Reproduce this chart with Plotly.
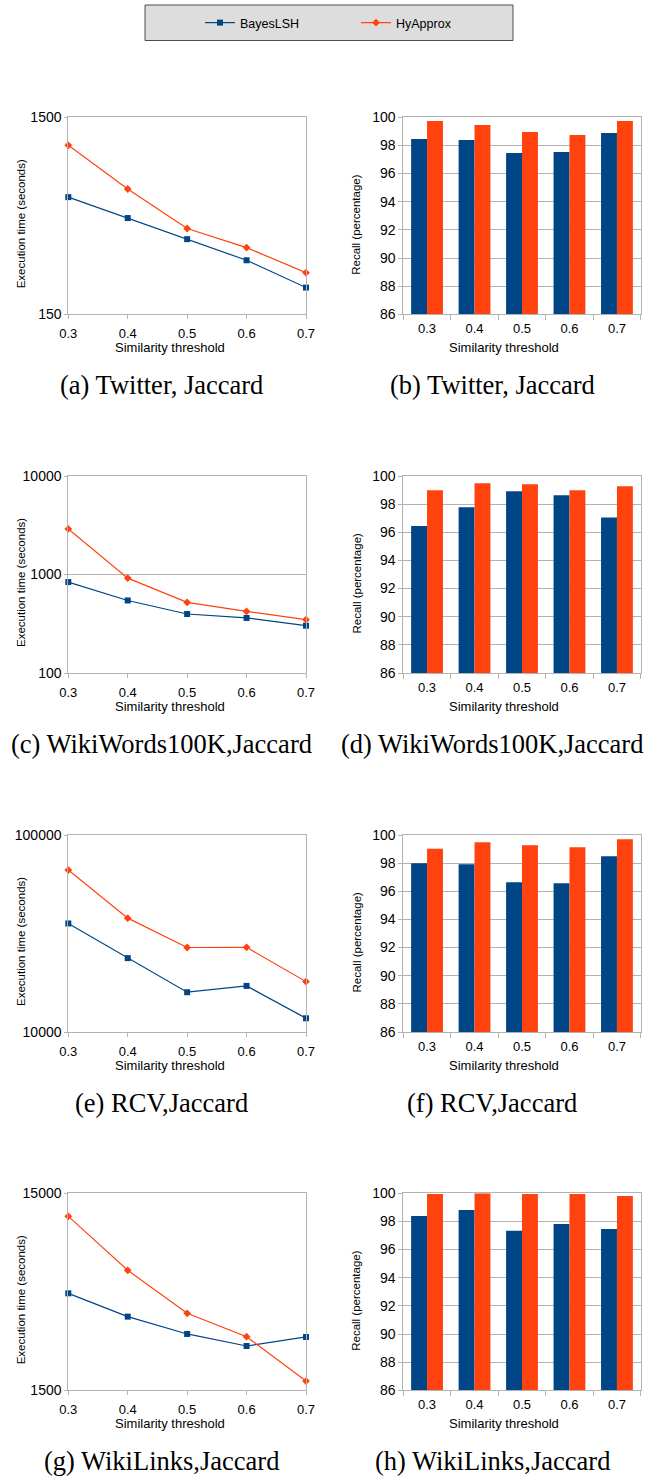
import math
import plotly.graph_objects as go

# ---- data -------------------------------------------------------------
thresholds = [0.3, 0.4, 0.5, 0.6, 0.7]
threshold_labels = ["0.3", "0.4", "0.5", "0.6", "0.7"]
series_names = ["BayesLSH", "HyApprox"]

# execution time (seconds), log scale
twitter_time_bayes = [590, 462, 361, 282, 205]
twitter_time_hy = [1081, 649, 409, 327, 244]
wikiwords_time_bayes = [838, 545, 397, 362, 302]
wikiwords_time_hy = [2904, 919, 521, 422, 348]
rcv_time_bayes = [35560, 23710, 15920, 17140, 11740]
rcv_time_hy = [66400, 37840, 26850, 26900, 18030]
wikilinks_time_bayes = [4660, 3548, 2898, 2518, 2798]
wikilinks_time_hy = [11460, 6098, 3689, 2806, 1671]

# recall (percentage)
twitter_recall_bayes = [98.46, 98.39, 97.46, 97.54, 98.89]
twitter_recall_hy = [99.74, 99.45, 98.96, 98.74, 99.74]
wikiwords_recall_bayes = [96.44, 97.78, 98.91, 98.63, 97.05]
wikiwords_recall_hy = [98.98, 99.48, 99.41, 98.98, 99.27]
rcv_recall_bayes = [97.99, 97.92, 96.64, 96.57, 98.49]
rcv_recall_hy = [99.03, 99.48, 99.27, 99.13, 99.69]
wikilinks_recall_bayes = [98.39, 98.82, 97.33, 97.82, 97.47]
wikilinks_recall_hy = [99.95, 100.0, 99.95, 99.95, 99.81]

time_ticks_twitter = [150, 1500]
time_ticks_wikiwords = [100, 1000, 10000]
time_ticks_rcv = [10000, 100000]
time_ticks_wikilinks = [1500, 15000]
recall_ticks = [86, 88, 90, 92, 94, 96, 98, 100]

captions_time = ["(a) Twitter, Jaccard", "(c) WikiWords100K,Jaccard",
                 "(e) RCV,Jaccard", "(g) WikiLinks,Jaccard"]
captions_recall = ["(b) Twitter, Jaccard", "(d) WikiWords100K,Jaccard",
                   "(f) RCV,Jaccard", "(h) WikiLinks,Jaccard"]

# ---- layout helpers ---------------------------------------------------
W, H = 649, 1479
BLUE = "#004586"
ORANGE = "#ff420e"
GRID = "#b3b3b3"
SANS = "Liberation Sans, Arial, sans-serif"
SERIF = "Liberation Serif, Times New Roman, serif"

LINE_X = (68.3, 306.0)
BAR_X = (403.3, 640.7)
ROW_TOPS = [117.3, 476.0, 835.0, 1193.3]
PLOT_H = 197.0


def px_x(v):
    return v / W


def px_y(v):
    return 1 - v / H


rows = [
    (twitter_time_bayes, twitter_time_hy, time_ticks_twitter,
     twitter_recall_bayes, twitter_recall_hy),
    (wikiwords_time_bayes, wikiwords_time_hy, time_ticks_wikiwords,
     wikiwords_recall_bayes, wikiwords_recall_hy),
    (rcv_time_bayes, rcv_time_hy, time_ticks_rcv,
     rcv_recall_bayes, rcv_recall_hy),
    (wikilinks_time_bayes, wikilinks_time_hy, time_ticks_wikilinks,
     wikilinks_recall_bayes, wikilinks_recall_hy),
]

fig = go.Figure()
layout = dict(
    template="none",
    width=W, height=H,
    margin=dict(l=0, r=0, t=0, b=0, pad=0),
    paper_bgcolor="white", plot_bgcolor="white",
    barmode="group", bargap=0.33, bargroupgap=0,
    font=dict(family=SANS, size=13, color="#000000"),
    showlegend=True,
    legend=dict(orientation="h", x=px_x(200), xanchor="left",
                y=px_y(23), yanchor="middle",
                bgcolor="rgba(0,0,0,0)", borderwidth=0,
                font=dict(family=SANS, size=12.5, color="#000000"),
                entrywidth=111, entrywidthmode="pixels"),
    shapes=[dict(type="rect", xref="paper", yref="paper",
                 x0=px_x(145), x1=px_x(513), y0=px_y(40.5), y1=px_y(5),
                 fillcolor="#dddddd", line=dict(color="#4d4d4d", width=1),
                 layer="below")],
    annotations=[],
)

xtick_font = dict(family=SANS, size=13, color="#000000")
ytick_font = dict(family=SANS, size=14, color="#000000")

for i, (tb, th, tticks, rb, rh) in enumerate(rows):
    top = ROW_TOPS[i]
    ydom = [px_y(top + PLOT_H), px_y(top)]
    la = 2 * i + 1
    ba = 2 * i + 2
    lx, ly = f"x{la}", f"y{la}"
    bx, by = f"x{ba}", f"y{ba}"

    # execution time lines
    fig.add_trace(go.Scatter(
        x=thresholds, y=tb, name=series_names[0], mode="lines+markers",
        line=dict(color=BLUE, width=1.2),
        marker=dict(symbol="square", size=6, color=BLUE),
        xaxis=lx, yaxis=ly, cliponaxis=False, showlegend=(i == 0)))
    fig.add_trace(go.Scatter(
        x=thresholds, y=th, name=series_names[1], mode="lines+markers",
        line=dict(color=ORANGE, width=1.2),
        marker=dict(symbol="diamond", size=6, color=ORANGE),
        xaxis=lx, yaxis=ly, cliponaxis=False, showlegend=(i == 0)))

    # recall bars
    fig.add_trace(go.Bar(
        x=threshold_labels, y=rb, name=series_names[0],
        marker=dict(color=BLUE, line=dict(width=0)),
        xaxis=bx, yaxis=by, showlegend=False))
    fig.add_trace(go.Bar(
        x=threshold_labels, y=rh, name=series_names[1],
        marker=dict(color=ORANGE, line=dict(width=0)),
        xaxis=bx, yaxis=by, showlegend=False))

    sfx_l = "" if la == 1 else str(la)
    sfx_b = str(ba)

    layout["xaxis" + sfx_l] = dict(
        domain=[px_x(LINE_X[0]), px_x(LINE_X[1])], anchor=ly,
        automargin=False,
        range=[0.3, 0.7], tickmode="array", tickvals=thresholds,
        ticktext=threshold_labels, showgrid=False, zeroline=False,
        showline=True, linecolor=GRID, linewidth=1, mirror=True,
        ticks="outside", ticklen=4, tickcolor=GRID, tickfont=xtick_font,
        ticklabelstandoff=3)
    layout["yaxis" + sfx_l] = dict(
        domain=ydom, anchor=lx, type="log", automargin=False,
        range=[math.log10(tticks[0]), math.log10(tticks[-1])],
        tickmode="array", tickvals=tticks, ticktext=[str(t) for t in tticks],
        showgrid=True, gridcolor=GRID, gridwidth=1, zeroline=False,
        showline=True, linecolor=GRID, linewidth=1, mirror=True,
        ticks="outside", ticklen=3, tickcolor=GRID, tickfont=ytick_font)

    layout["xaxis" + sfx_b] = dict(
        domain=[px_x(BAR_X[0]), px_x(BAR_X[1])], anchor=by,
        automargin=False,
        type="category", tickson="boundaries", showgrid=False,
        zeroline=False, showline=True, linecolor=GRID, linewidth=1,
        mirror=True, ticks="outside", ticklen=5, tickcolor=GRID,
        tickfont=xtick_font, ticklabelstandoff=2)
    layout["yaxis" + sfx_b] = dict(
        domain=ydom, anchor=bx, range=[86, 100], automargin=False,
        tickmode="array", tickvals=recall_ticks,
        showgrid=True, gridcolor=GRID, gridwidth=1, zeroline=False,
        showline=True, linecolor=GRID, linewidth=1, mirror=True,
        ticks="outside", ticklen=4, tickcolor=GRID, tickfont=ytick_font)

    # axis titles and panel captions
    layout["annotations"] += [
        dict(text="Similarity threshold", xref="paper", yref="paper",
             x=px_x(170), y=px_y(top + 230), showarrow=False,
             xanchor="center", yanchor="middle",
             font=dict(family=SANS, size=13, color="#000000")),
        dict(text="Similarity threshold", xref="paper", yref="paper",
             x=px_x(504), y=px_y(top + 230), showarrow=False,
             xanchor="center", yanchor="middle",
             font=dict(family=SANS, size=13, color="#000000")),
        dict(text="Execution time (seconds)", xref="paper", yref="paper",
             x=px_x(21), y=px_y(top + 107), showarrow=False, textangle=-90,
             xanchor="center", yanchor="middle",
             font=dict(family=SANS, size=11.5, color="#000000")),
        dict(text="Recall (percentage)", xref="paper", yref="paper",
             x=px_x(356.5), y=px_y(top + 107), showarrow=False, textangle=-90,
             xanchor="center", yanchor="middle",
             font=dict(family=SANS, size=11.5, color="#000000")),
        dict(text=captions_time[i], xref="paper", yref="paper",
             x=px_x(161.5), y=px_y(top + 268), showarrow=False,
             xanchor="center", yanchor="middle",
             font=dict(family=SERIF, size=26.5, color="#000000")),
        dict(text=captions_recall[i], xref="paper", yref="paper",
             x=px_x(492), y=px_y(top + 268), showarrow=False,
             xanchor="center", yanchor="middle",
             font=dict(family=SERIF, size=26.5, color="#000000")),
    ]

fig.update_layout(**layout)
fig.write_html("out.html")
